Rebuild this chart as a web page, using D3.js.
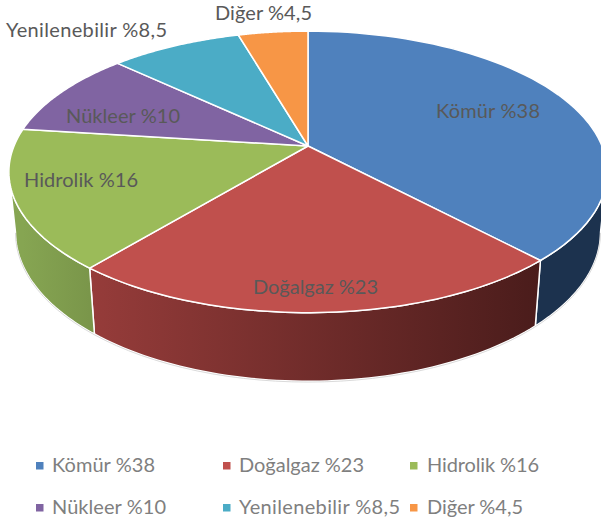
<!DOCTYPE html>
<html><head><meta charset="utf-8">
<script src="https://cdn.jsdelivr.net/npm/d3@7/dist/d3.min.js"></script>
<style>html,body{margin:0;padding:0;background:#fff;overflow:hidden}svg{display:block}text{font-family:Lato,"Open Sans",sans-serif}</style>
</head><body><svg id="c" width="601" height="522"></svg>
<script>
const categories = ["Kömür","Doğalgaz","Hidrolik","Nükleer","Yenilenebilir","Diğer"];
const values = [38,23,16,10,8.5,4.5];
const valueLabels = ["%38","%23","%16","%10","%8,5","%4,5"];
const colors = ["#4f81bd","#c0504d","#9bbb59","#8064a2","#4bacc6","#f79646"];
const sideStops = [["#1f3855","#1c324e"],["#963c3a","#4a1c1b"],["#86a552","#7a964a"],["#5f4a79","#5f4a79"],["#37808f","#37808f"],["#b86f33","#b86f33"]];
// layout
const cx=308, cy=146, Rx=294, Ry=136, k=0.184, sz=1.06, dz=58.6, sx=0.978;
const labelAnchors = [[488,111],[315.5,287],[81,180],[123,116],[86.5,30],[263.5,13]];
const labelWidths = [104,125,114,114,161,97];
const legendCells = [[36,52,472],[223,239,472],[410,427,472],[36,52,514],[223,239,514],[410,427,514]];
const legendWidths = [103,125,112,114,161,96];

const svg = d3.select("#c");
const arcs = d3.pie().sort(null).value(d=>d)(values);
const label = i => categories[i]+" "+valueLabels[i];
const top3d = a => { const x=Math.sin(a), y=-Math.cos(a), w=1-k*y; return [cx+Rx*x/w, cy+Ry*y/w]; };
const bot3d = a => { const p=top3d(a); return [cx+(p[0]-cx)*sx, cy+dz+(p[1]-cy)*sz]; };
const arcPts = (f,a0,a1) => d3.range(0,61).map(i=>f(a0+(a1-a0)*i/60));
const line = d3.line();
// the wall silhouette sits where the projected rim reaches its widest point
const silR = Math.acos(-k), silL = 2*Math.PI-silR;
const wallRange = d => [Math.max(d.startAngle,silR), Math.min(d.endAngle,silL)];
const defs = svg.append("defs");
arcs.forEach((d,i)=>{
  const xs=[top3d(d.startAngle)[0],top3d(d.endAngle)[0]];
  const g=defs.append("linearGradient").attr("id","s"+i).attr("gradientUnits","userSpaceOnUse")
    .attr("x1",Math.min(...xs)).attr("x2",Math.max(...xs)).attr("y1",0).attr("y2",0);
  g.append("stop").attr("offset",0).attr("stop-color",sideStops[i][0]);
  g.append("stop").attr("offset",1).attr("stop-color",sideStops[i][1]);
});
const order=arcs.map((d,i)=>i).filter(i=>wallRange(arcs[i])[0]<wallRange(arcs[i])[1]);
svg.append("g").selectAll("path").data(order).join("path")
  .attr("d",i=>{const [a0,a1]=wallRange(arcs[i]);
    return line([...arcPts(top3d,a0,a1),...arcPts(bot3d,a0,a1).reverse()])+"Z";})
  .attr("fill",i=>"url(#s"+i+")")
  .attr("stroke","#fff").attr("stroke-width",1.5).attr("stroke-linejoin","round");
// faint outer edge of the wall
svg.append("path").attr("d",line(arcPts(bot3d,silR,silL)))
  .attr("fill","none").attr("stroke","#d0d0d0").attr("stroke-width",0.8).attr("transform","translate(0,0.8)");
// top face
svg.append("g").selectAll("path").data(arcs).join("path")
  .attr("d",d=>line([[cx,cy],...arcPts(top3d,d.startAngle,d.endAngle)])+"Z")
  .attr("fill",(d,i)=>colors[i])
  .attr("stroke","#fff").attr("stroke-width",1.5).attr("stroke-linejoin","round");
// data labels
svg.append("g").selectAll("text").data(arcs).join("text")
  .attr("x",(d,i)=>labelAnchors[i][0]).attr("y",(d,i)=>labelAnchors[i][1]+7)
  .attr("text-anchor","middle").attr("font-size",20).attr("fill","#595959")
  .attr("textLength",(d,i)=>labelWidths[i]).attr("lengthAdjust","spacing")
  .text((d,i)=>label(i));
// legend
const lg=svg.append("g").selectAll("g").data(categories).join("g");
lg.append("rect").attr("x",(d,i)=>legendCells[i][0]).attr("y",(d,i)=>legendCells[i][2]-10)
  .attr("width",7.5).attr("height",7.5).attr("fill",(d,i)=>colors[i]);
lg.append("text").attr("x",(d,i)=>legendCells[i][1]).attr("y",(d,i)=>legendCells[i][2])
  .attr("font-size",20).attr("fill","#7f7f7f")
  .attr("textLength",(d,i)=>legendWidths[i]).attr("lengthAdjust","spacing")
  .text((d,i)=>label(i));
</script></body></html>
